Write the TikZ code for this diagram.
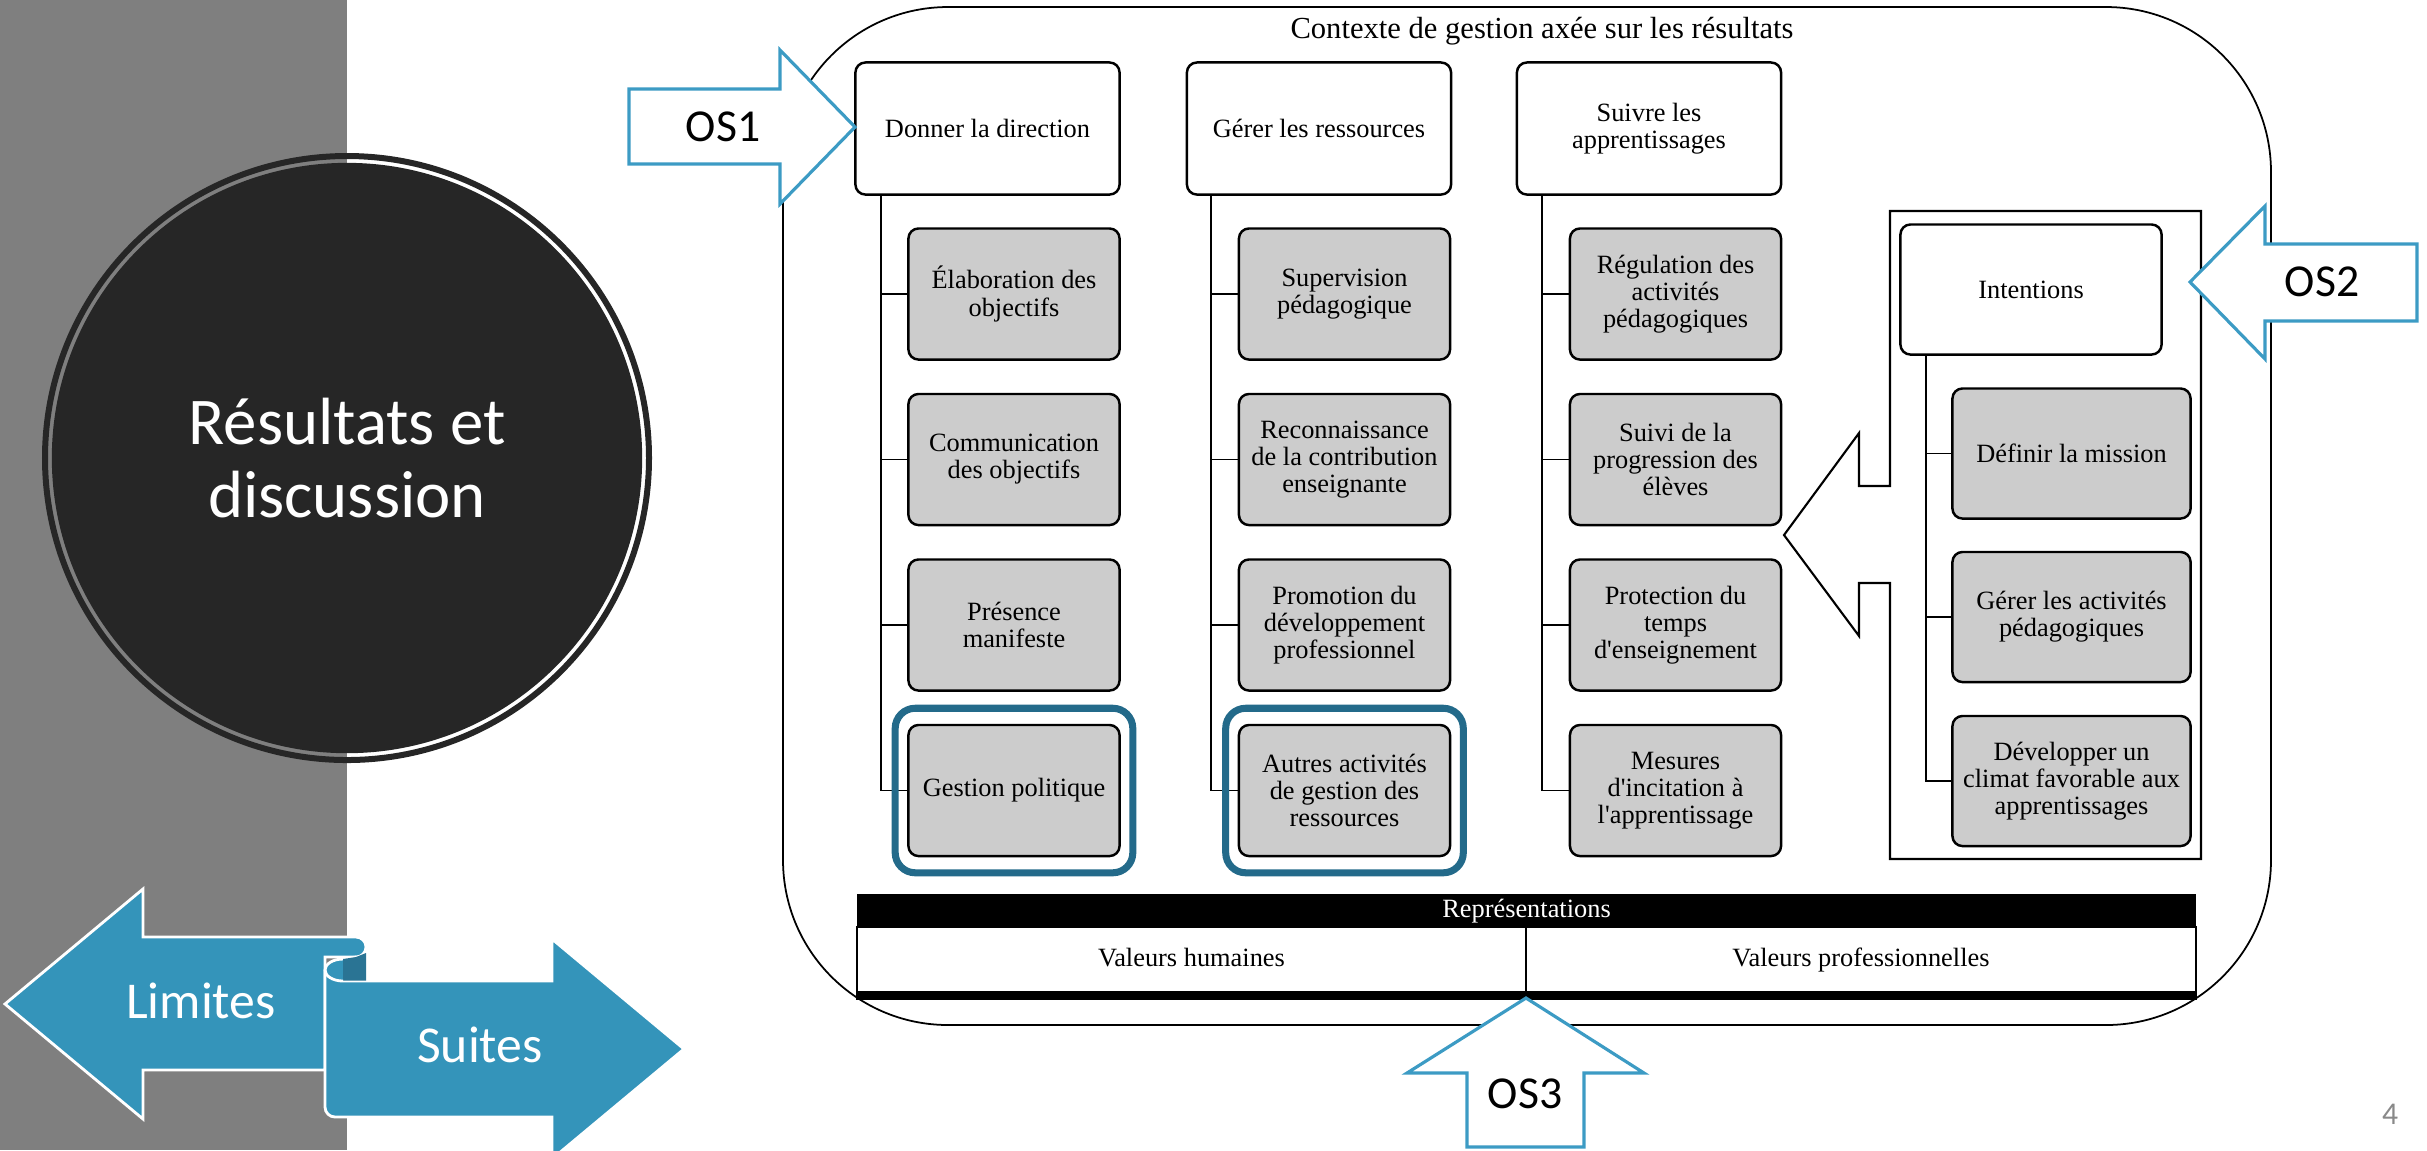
\documentclass[tikz,border=0pt]{standalone}
\usepackage{fontspec}
\setmainfont{Liberation Serif}
\newfontfamily\slidefont{Carlito}
\usetikzlibrary{fit}
\definecolor{bandgray}{RGB}{127,127,127}
\definecolor{disc}{RGB}{38,38,38}
\definecolor{arrowblue}{RGB}{52,148,186}
\definecolor{arrowdark}{RGB}{42,116,148}
\definecolor{osblue}{RGB}{60,155,196}
\definecolor{hlblue}{RGB}{35,106,138}
\definecolor{boxgray}{RGB}{204,204,204}
\definecolor{pagegray}{RGB}{137,137,137}
\newcommand{\boxfont}{\fontsize{7.5}{7.7}\selectfont}

\begin{document}
\begin{tikzpicture}[x=0.01cm,y=-0.01cm,
    hd/.style={draw,rounded corners=1mm,line width=.7pt,fill=white,align=center,
      font=\boxfont,minimum width=2.64cm,minimum height=1.32cm,inner sep=1pt},
    sb/.style={hd,fill=boxgray,minimum width=2.11cm,minimum height=1.31cm},
    lnk/.style={line width=.5pt},
    os/.style={draw=osblue,fill=white,line width=.9pt},
    ost/.style={font=\slidefont\fontsize{13}{15}\selectfont},
    every fit/.style={draw=hlblue,line width=2pt,rounded corners=2mm,
      inner xsep=.12cm,inner ysep=.155cm}]

    \useasboundingbox (0,0) rectangle (2427,1150);

    % left band, disc and the two arrows
    \fill[bandgray] (0,0) rectangle (347,1150);
    \node[circle,fill=disc,minimum size=5.9cm,inner sep=0,text=white,align=center,
      font=\slidefont\fontsize{19}{20.8}\selectfont] (res) at (347,458)
      {Résultats et\\discussion};
    \draw[disc,line width=.06cm] (res.center) circle[radius=302];

    \filldraw[fill=arrowblue,draw=white,line width=.8pt] (325,1070) -- (143,1070)
      -- (143,1119) -- (5,1004) -- (143,889) -- (143,937) -- (356,937)
      arc[start angle=-90,end angle=90,radius=10] -- (325,957) -- cycle;
    \filldraw[fill=arrowblue,draw=white,line width=.8pt] (343,981) -- (552,981)
      -- (552,939) -- (684,1049) -- (552,1159) -- (552,1117) -- (335,1117)
      arc[start angle=90,end angle=180,radius=10] -- (325,970)
      arc[start angle=180,end angle=270,x radius=18,y radius=11] -- (356,957);
    \fill[arrowdark] (343,959) -- (356,957) -- (366,953) -- (366,980.5)
      -- (343,980.5) -- cycle;
    \draw[white,line width=.8pt] (325,970)
      arc[start angle=180,end angle=90,x radius=18,y radius=11];
    \node[text=white,font=\slidefont\fontsize{14.7}{16}\selectfont] (lim) at (201,1001) {Limites};
    \node[text=white,font=\slidefont\fontsize{14.7}{16}\selectfont] (sui) at (480,1045) {Suites};

    % the context
    \draw[line width=.5pt,rounded corners=1.65cm] (783,7) rectangle (2271,1025);
    \node[font=\fontsize{8.7}{10}\selectfont] (ctx) at (1542,31)
      {Contexte de gestion axée sur les résultats};

    % the boxes
    \node[hd] (D) at (987.5,128.5) {Donner la direction};
    \node[hd] (G) at (1319,128.5) {Gérer les ressources};
    \node[hd] (S) at (1649,128.5) {Suivre les\\apprentissages};

    \node[sb] (D1) at (1014,294) {Élaboration des\\objectifs};
    \node[sb] (D2) at (1014,459.5) {Communication\\des objectifs};
    \node[sb] (D3) at (1014,625) {Présence\\manifeste};
    \node[sb] (D4) at (1014,790.5) {Gestion politique};

    \node[sb] (G1) at (1344.5,294) {Supervision\\pédagogique};
    \node[sb] (G2) at (1344.5,459.5) {Reconnaissance\\de la contribution\\enseignante};
    \node[sb] (G3) at (1344.5,625) {Promotion du\\développement\\professionnel};
    \node[sb] (G4) at (1344.5,790.5) {Autres activités\\de gestion des\\ressources};

    \node[sb] (S1) at (1675.5,294) {Régulation des\\activités\\pédagogiques};
    \node[sb] (S2) at (1675.5,459.5) {Suivi de la\\progression des\\élèves};
    \node[sb] (S3) at (1675.5,625) {Protection du\\temps\\d\textquotesingle enseignement};
    \node[sb] (S4) at (1675.5,790.5) {Mesures\\d\textquotesingle incitation à\\l\textquotesingle apprentissage};

    \draw[line width=.6pt] (1890,486) -- (1890,211) -- (2201,211) -- (2201,859)
      -- (1890,859) -- (1890,583) -- (1859,583) -- (1859,636) -- (1784,535)
      -- (1859,433) -- (1859,486) -- cycle;
    \node[hd,minimum width=2.61cm,minimum height=1.3cm] (I) at (2031,289.5) {Intentions};
    \node[sb,minimum width=2.38cm,minimum height=1.3cm] (I1) at (2071.5,453.5) {Définir la mission};
    \node[sb,minimum width=2.38cm,minimum height=1.3cm] (I2) at (2071.5,617) {Gérer les activités\\pédagogiques};
    \node[sb,minimum width=2.38cm,minimum height=1.3cm] (I3) at (2071.5,781) {Développer un\\climat favorable aux\\apprentissages};

    % the links
    \draw[lnk] ([xshift=.27cm]D.south west) |- (D1.west);
    \draw[lnk] ([xshift=.27cm]D.south west) |- (D2.west);
    \draw[lnk] ([xshift=.27cm]D.south west) |- (D3.west);
    \draw[lnk] ([xshift=.27cm]D.south west) |- (D4.west);
    \draw[lnk] ([xshift=.25cm]G.south west) |- (G1.west);
    \draw[lnk] ([xshift=.25cm]G.south west) |- (G2.west);
    \draw[lnk] ([xshift=.25cm]G.south west) |- (G3.west);
    \draw[lnk] ([xshift=.25cm]G.south west) |- (G4.west);
    \draw[lnk] ([xshift=.26cm]S.south west) |- (S1.west);
    \draw[lnk] ([xshift=.26cm]S.south west) |- (S2.west);
    \draw[lnk] ([xshift=.26cm]S.south west) |- (S3.west);
    \draw[lnk] ([xshift=.26cm]S.south west) |- (S4.west);
    \draw[lnk] ([xshift=.27cm]I.south west) |- (I1.west);
    \draw[lnk] ([xshift=.27cm]I.south west) |- (I2.west);
    \draw[lnk] ([xshift=.27cm]I.south west) |- (I3.west);

    \node[fit=(D4)] (H1) {};
    \node[fit=(G4)] (H2) {};

    % the representations
    \node[fill=black,text=white,font=\boxfont,minimum width=13.39cm,
      minimum height=.33cm,inner sep=0,text height=1.8mm,text depth=.5mm]
      (R) at (1526.5,910.5) {Représentations};
    \node[draw,line width=.5pt,font=\boxfont,minimum width=6.69cm,
      minimum height=.65cm,text height=1.8mm,text depth=.5mm]
      (V1) at (1191.5,959.5) {Valeurs humaines};
    \node[draw,line width=.5pt,font=\boxfont,minimum width=6.70cm,
      minimum height=.65cm,text height=1.8mm,text depth=.5mm]
      (V2) at (1861,959.5) {Valeurs professionnelles};
    \fill (V1.south west) rectangle ([yshift=-.07cm]V2.south east);

    % the OS arrows
    \draw[os] (629,89) -- (780,89) -- (780,50) -- (855,127) -- (780,204)
      -- (780,164) -- (629,164) -- cycle;
    \node[ost] (os1) at (723,127) {OS1};
    \draw[os] (2417,244) -- (2265,244) -- (2265,206) -- (2190,282) -- (2265,359)
      -- (2265,321) -- (2417,321) -- cycle;
    \node[ost] (os2) at (2322,282) {OS2};
    \draw[os] (1467,1147) -- (1467,1073) -- (1407,1073) -- (1526,998) -- (1644,1073)
      -- (1584,1073) -- (1584,1147) -- cycle;
    \node[ost] (os3) at (1525,1094) {OS3};

    \node[text=pagegray,font=\slidefont\fontsize{9}{10}\selectfont] (pg) at (2390,1114) {4};
\end{tikzpicture}
\end{document}
